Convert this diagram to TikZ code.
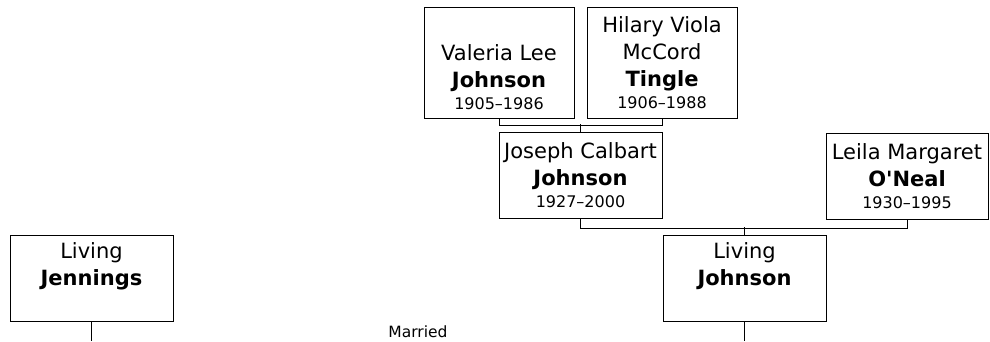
\documentclass[tikz,border=0pt]{standalone}
\usepackage{fontspec}
\setmainfont{DejaVu Sans}
\usetikzlibrary{positioning}

\tikzset{
  person/.style={draw, line width=0.8pt, align=center, inner sep=0pt,
    font=\fontsize{21}{27}\selectfont, minimum height=86pt},
  tallperson/.style={person, minimum width=150pt, minimum height=111pt},
  wideperson/.style={person, minimum width=163pt},
  link/.style={draw, line width=0.8pt}
}
\newcommand{\yrs}[1]{\\[-5pt]{\fontsize{16}{20}\selectfont #1}}

\begin{document}
\begin{tikzpicture}[x=1pt, y=-1pt]
  \useasboundingbox (0,0) rectangle (990,341);

  % grandparents (top row)
  \node (valeria) [tallperson] at (499,62.5) {\strut\\Valeria Lee\\\textbf{Johnson}\yrs{1905--1986}};
  \node (hilary) [tallperson] at (662,62.5) {Hilary Viola\\McCord\\\textbf{Tingle}\yrs{1906--1988}};

  % parents (middle row)
  \node (joseph) [wideperson] at (580.5,175.5) {Joseph Calbart\\\textbf{Johnson}\yrs{1927--2000}};
  \node (leila) [wideperson, minimum width=162pt] at (907,176.5) {Leila Margaret\\\textbf{O\textquotesingle Neal}\yrs{1930--1995}};

  % couple (bottom row)
  \node (jennings) [wideperson] at (91.5,278) {Living\\\textbf{Jennings}\yrs{\strut}};
  \node (livjohnson) [wideperson] at (744.5,278) {Living\\\textbf{Johnson}\yrs{\strut}};
  \node (married) [font=\fontsize{15.5}{18}\selectfont] at (418,332) {Married};

  % connectors
  \draw[link] (valeria.south) -- ++(0,7) -| (hilary.south);
  \draw[link] (joseph.north) -- ++(0,-8.5);
  \draw[link] (joseph.south) -- ++(0,9) -| (leila.south);
  \draw[link] (livjohnson.north) -- ++(0,-8);
  \coordinate (jenningsend) at (jennings.south |- 0,341);
  \coordinate (johnsonend) at (livjohnson.south |- 0,341);
  \draw[link] (jennings.south) -- (jenningsend);
  \draw[link] (livjohnson.south) -- (johnsonend);
\end{tikzpicture}
\end{document}
